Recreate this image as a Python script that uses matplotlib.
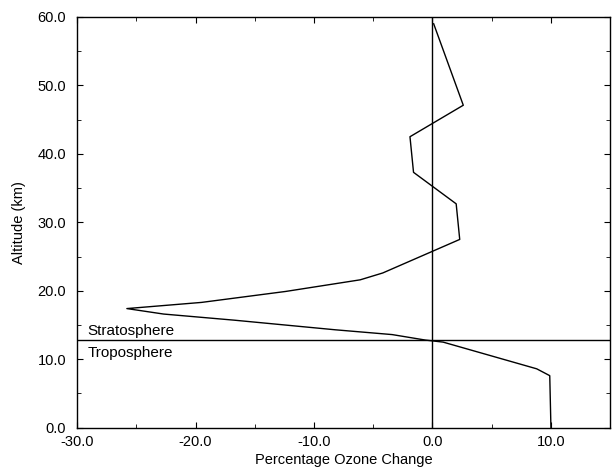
import matplotlib
matplotlib.use("Agg")
import matplotlib.pyplot as plt
from matplotlib.ticker import MultipleLocator, FormatStrFormatter

plt.rcParams['font.family'] = ['Liberation Sans', 'DejaVu Sans']

# Ozone change profile (percent) vs altitude (km)
ozone_change = [0.1, 2.6, -1.9, -1.6, 2.0, 2.3, -4.2, -6.1, -12.4, -19.5, -25.8,
                -22.7, -16.7, -8.2, -3.4, -0.6, 0.9, 8.8, 9.9, 10.0]
altitude = [59.0, 47.1, 42.5, 37.3, 32.7, 27.5, 22.6, 21.6, 19.9, 18.3, 17.4,
            16.6, 15.7, 14.3, 13.6, 12.8, 12.5, 8.6, 7.6, 0.0]
tropopause = 12.8
layer_labels = ["Stratosphere", "Troposphere"]

fig = plt.figure(figsize=(6.12, 4.70), dpi=100)
ax = fig.add_axes([0.126, 0.09, 0.871, 0.874])

ax.plot(ozone_change, altitude, color='black', lw=1.0)
ax.axhline(tropopause, color='black', lw=1.0)
ax.axvline(0, color='black', lw=1.0)

ax.text(-29.15, tropopause + 0.25, layer_labels[0], fontsize=11, va='bottom', ha='left')
ax.text(-29.15, tropopause - 0.9, layer_labels[1], fontsize=11, va='top', ha='left')

ax.set_xlim(-30, 15)
ax.set_ylim(0, 60)
ax.xaxis.set_major_locator(MultipleLocator(10))
ax.xaxis.set_minor_locator(MultipleLocator(5))
ax.yaxis.set_major_locator(MultipleLocator(10))
ax.yaxis.set_minor_locator(MultipleLocator(5))
ax.xaxis.set_major_formatter(FormatStrFormatter('%.1f'))
ax.yaxis.set_major_formatter(FormatStrFormatter('%.1f'))
ax.tick_params(which='both', direction='in', top=True, right=True, labelsize=10.5)
ax.tick_params(which='major', length=4)
ax.tick_params(which='minor', length=3)
ax.tick_params(axis='y', which='major', pad=8)
ax.tick_params(axis='x', which='major', pad=5)
for s in ax.spines.values():
    s.set_linewidth(1.0)

ax.set_xlabel("Percentage Ozone Change", fontsize=10.5, labelpad=3)
ax.set_ylabel("Altitude (km)", fontsize=10.5, labelpad=8)

fig.savefig("out.png", dpi=100)
